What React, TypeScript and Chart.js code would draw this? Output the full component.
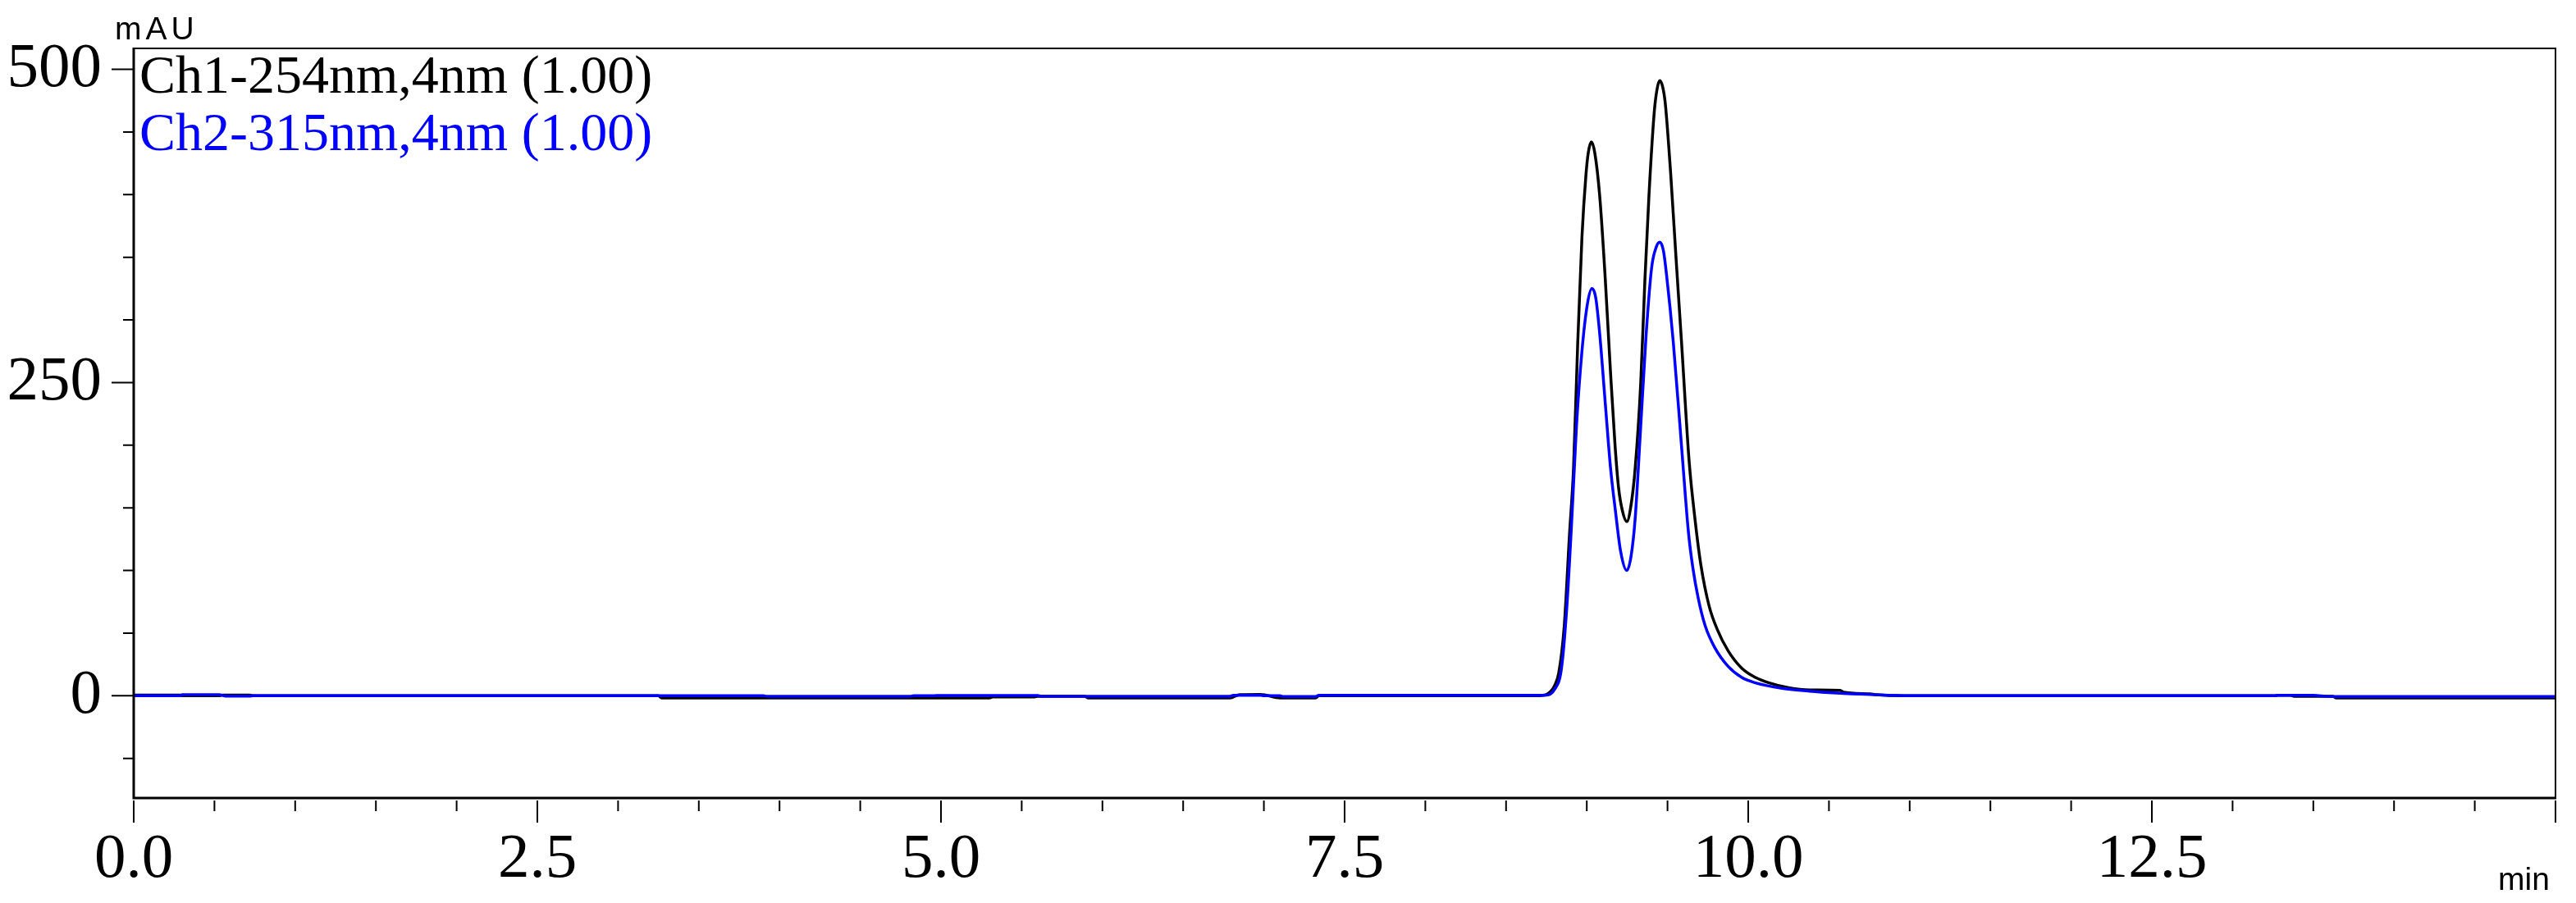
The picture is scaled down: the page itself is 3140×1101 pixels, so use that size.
import React, { useEffect, useRef } from "react";
import { Chart, registerables } from "chart.js";

Chart.register(...registerables);

// ---- Data ----
const ch1Label = "Ch1-254nm,4nm (1.00)";
const ch2Label = "Ch2-315nm,4nm (1.00)";
const yUnit = "mAU";
const xUnit = "min";

// Ch1 (254 nm, black): retention time (min)
const ch1Times = [
  0, 0.29, 0.3, 0.53, 0.55, 0.72, 0.74, 3.25, 3.27, 5.3,
  5.32, 5.58, 5.6, 5.89, 5.91, 6.79, 6.85, 6.98, 7.1, 7.32,
  7.34, 8.65, 8.72, 8.75, 8.775, 8.8, 8.826, 8.86, 8.893, 8.918,
  8.944, 8.97, 8.995, 9.01, 9.029, 9.05, 9.08, 9.113, 9.147, 9.175,
  9.197, 9.22, 9.248, 9.275, 9.3, 9.334, 9.36, 9.385, 9.418, 9.435,
  9.452, 9.47, 9.486, 9.52, 9.553, 9.587, 9.634, 9.672, 9.706, 9.757,
  9.808, 9.875, 9.96, 10.045, 10.13, 10.25, 10.38, 10.57, 10.59, 10.755,
  10.79, 10.96, 13.26, 13.28, 13.36, 13.38, 13.62, 13.64, 15.0,
];
// Ch1 absorbance (mAU)
const ch1Values = [
  0.6, 0.6, 0, 0, 0.6, 0.6, 0, 0, -1.7, -1.7,
  -0.9, -0.9, -0.4, -0.4, -1.7, -1.7, 0.9, 1.1, -1.7, -1.7,
  0, 0, 0.3, 1, 3.3, 8, 18, 55, 129, 182,
  282, 366, 416, 434, 442, 433, 399, 336, 258, 200,
  166, 148, 139, 153, 182, 249, 332, 399, 466, 484,
  491, 486, 473, 416, 349, 282, 187, 139, 105, 72,
  53, 36, 22, 14.6, 10.3, 6.4, 4.6, 4.3, 2.8, 1.5,
  0.9, 0, 0, 0.4, 0.4, -0.4, -0.4, -1.7, -1.7,
];

// Ch2 (315 nm, blue): retention time (min)
const ch2Times = [
  0, 0.29, 0.3, 0.53, 0.57, 0.72, 0.74, 3.9, 3.92, 4.81,
  4.83, 4.95, 4.97, 5.6, 5.62, 5.89, 5.91, 6.79, 6.81, 6.98,
  7.0, 7.1, 7.12, 7.32, 7.34, 8.7, 8.75, 8.8, 8.843, 8.877,
  8.91, 8.936, 8.97, 9.003, 9.032, 9.055, 9.08, 9.113, 9.147, 9.177,
  9.21, 9.248, 9.275, 9.3, 9.334, 9.368, 9.402, 9.43, 9.452, 9.475,
  9.494, 9.536, 9.587, 9.63, 9.656, 9.69, 9.733, 9.792, 9.875, 9.96,
  10.045, 10.21, 10.38, 10.55, 10.755, 11.0, 13.26, 13.28, 13.5, 13.6,
  15.0,
];
// Ch2 absorbance (mAU)
const ch2Values = [
  0, 0, 0.9, 0.9, -0.2, -0.2, 0, 0, -0.4, -0.4,
  0, 0, 0.2, 0.2, -0.4, -0.4, -0.4, -0.4, 0.4, 0.4,
  0, 0, -0.65, -0.65, 0.4, 0.4, 0.6, 5, 21.6, 72,
  148, 215, 275, 312, 325, 318, 289, 236, 182, 148,
  115, 100, 112, 142, 215, 289, 342, 358, 362, 355,
  336, 282, 199, 130, 103, 78, 56, 38.6, 23.5, 14.6,
  10.3, 6, 3.7, 2.2, 1, 0, 0, 0.4, 0.4, -0.65,
  -0.65,
];

// Axis ticks
const xMajorTicks = [0, 2.5, 5, 7.5, 10, 12.5, 15];
const xTickLabels = ["0.0", "2.5", "5.0", "7.5", "10.0", "12.5", ""];
const xMinorTicks = [
  0.5, 1, 1.5, 2, 3, 3.5, 4, 4.5, 5.5, 6, 6.5, 7, 8, 8.5, 9, 9.5,
  10.5, 11, 11.5, 12, 13, 13.5, 14, 14.5,
];
const yMajorTicks = [0, 250, 500];
const yTickLabels = ["0", "250", "500"];
const yMinorTicks = [-50, 50, 100, 150, 200, 300, 350, 400, 450];
const xRange = [0, 15];
const yRange = [-81.6, 516.7];

const SERIF = "'Liberation Serif', 'Times New Roman', serif";
const SANS = "'Liberation Sans', Arial, sans-serif";

const decorPlugin = {
  id: "decor",
  afterDraw(chart: any) {
    const ctx = chart.ctx as CanvasRenderingContext2D;
    const { left, right, top, bottom } = chart.chartArea;
    const xs = chart.scales.x;
    const ys = chart.scales.y;
    ctx.save();
    ctx.strokeStyle = "#000";
    ctx.lineCap = "butt";

    // frame: top & right (thin)
    ctx.lineWidth = 2;
    ctx.beginPath();
    ctx.moveTo(left, top);
    ctx.lineTo(right, top);
    ctx.moveTo(right, top - 1);
    ctx.lineTo(right, bottom);
    ctx.stroke();

    // axes: left & bottom (thicker)
    ctx.lineWidth = 3;
    ctx.beginPath();
    ctx.moveTo(left, top - 1);
    ctx.lineTo(left, bottom + 1.5);
    ctx.moveTo(left - 1.5, bottom);
    ctx.lineTo(right + 1, bottom);
    ctx.stroke();

    // y ticks
    ctx.lineWidth = 2;
    ctx.beginPath();
    for (const v of yMajorTicks) {
      const p = ys.getPixelForValue(v);
      ctx.moveTo(left - 27, p);
      ctx.lineTo(left, p);
    }
    for (const v of yMinorTicks) {
      const p = ys.getPixelForValue(v);
      ctx.moveTo(left - 13, p);
      ctx.lineTo(left, p);
    }
    ctx.stroke();

    // x ticks (below axis)
    ctx.beginPath();
    for (const v of xMajorTicks) {
      const p = xs.getPixelForValue(v);
      ctx.moveTo(p, bottom + 3);
      ctx.lineTo(p, bottom + 30);
    }
    for (const v of xMinorTicks) {
      const p = xs.getPixelForValue(v);
      ctx.moveTo(p, bottom + 3);
      ctx.lineTo(p, bottom + 16);
    }
    ctx.stroke();

    // units
    ctx.fillStyle = "#000";
    ctx.textBaseline = "alphabetic";
    ctx.textAlign = "left";
    ctx.font = `39px ${SANS}`;
    (ctx as any).letterSpacing = "5px";
    ctx.fillText(yUnit, 140, 48);
    (ctx as any).letterSpacing = "0px";
    ctx.font = `39px ${SANS}`;
    ctx.fillText(xUnit, 3045, 1085);

    // channel legend
    ctx.font = `66px ${SERIF}`;
    ctx.fillStyle = "#000000";
    ctx.fillText(ch1Label, left + 7, 113);
    ctx.fillStyle = "#0000ff";
    ctx.fillText(ch2Label, left + 7, 183);

    ctx.restore();
  },
};

export default function App() {
  const ref = useRef<HTMLCanvasElement | null>(null);

  useEffect(() => {
    document.body.style.margin = "0";
    const canvas = ref.current;
    if (!canvas) return;
    const chart = new Chart(canvas, {
      type: "line",
      data: {
        datasets: [
          {
            label: ch1Label,
            data: ch1Times.map((t, i) => ({ x: t, y: ch1Values[i] })),
            borderColor: "#000000",
            borderWidth: 3.5,
            pointRadius: 0,
            fill: false,
            cubicInterpolationMode: "monotone",
            order: 1,
          },
          {
            label: ch2Label,
            data: ch2Times.map((t, i) => ({ x: t, y: ch2Values[i] })),
            borderColor: "#0000ff",
            borderWidth: 3.5,
            pointRadius: 0,
            fill: false,
            cubicInterpolationMode: "monotone",
            order: 0,
          },
        ],
      },
      options: {
        animation: false,
        responsive: false,
        devicePixelRatio: 1,
        parsing: false as any,
        layout: { padding: { top: 59, right: 25, left: 0, bottom: 0 } },
        plugins: {
          legend: { display: false },
          tooltip: { enabled: false },
          title: { display: false },
        },
        scales: {
          x: {
            type: "linear",
            position: "bottom",
            min: xRange[0],
            max: xRange[1],
            grid: { display: false, drawTicks: false },
            border: { display: false },
            afterBuildTicks: (scale: any) => {
              scale.ticks = xMajorTicks.map((v) => ({ value: v }));
            },
            afterFit: (scale: any) => {
              scale.height = 128;
              scale.paddingLeft = 0;
              scale.paddingRight = 0;
              scale.paddingTop = 0;
              scale.paddingBottom = 0;
            },
            ticks: {
              autoSkip: false,
              maxRotation: 0,
              minRotation: 0,
              padding: 30,
              color: "#000",
              font: { family: SERIF, size: 77 },
              callback: (_v: any, i: number) => xTickLabels[i],
            },
          },
          y: {
            type: "linear",
            position: "left",
            min: yRange[0],
            max: yRange[1],
            grid: { display: false, drawTicks: false },
            border: { display: false },
            afterBuildTicks: (scale: any) => {
              scale.ticks = yMajorTicks.map((v) => ({ value: v }));
            },
            afterFit: (scale: any) => {
              scale.width = 163;
              scale.paddingLeft = 0;
              scale.paddingRight = 0;
              scale.paddingTop = 0;
              scale.paddingBottom = 0;
            },
            ticks: {
              autoSkip: false,
              padding: 39,
              color: "#000",
              font: { family: SERIF, size: 77 },
              callback: (_v: any, i: number) => yTickLabels[i],
            },
          },
        },
      },
      plugins: [decorPlugin],
    });
    return () => chart.destroy();
  }, []);

  return (
    <div style={{ width: 3140, height: 1101, background: "#fff" }}>
      <canvas ref={ref} width={3140} height={1101} style={{ display: "block" }} />
    </div>
  );
}
